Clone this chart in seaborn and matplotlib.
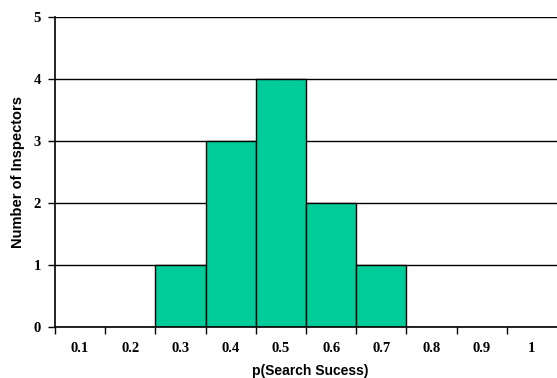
import matplotlib
matplotlib.use("Agg")
import matplotlib.pyplot as plt
import seaborn as sns
import pandas as pd
import numpy as np

categories = ["0.1", "0.2", "0.3", "0.4", "0.5", "0.6", "0.7", "0.8", "0.9", "1"]
inspectors = [0, 0, 1, 3, 4, 2, 1, 0, 0, 0]
y_ticks = [0, 1, 2, 3, 4, 5]

sns.set_theme(style="white")
plt.rcParams["font.family"] = ["Liberation Sans", "DejaVu Sans"]
plt.rcParams["text.color"] = "black"
plt.rcParams["axes.labelcolor"] = "black"
plt.rcParams["xtick.color"] = "black"
plt.rcParams["ytick.color"] = "black"

df = pd.DataFrame({"p": categories, "n": inspectors})

fig = plt.figure(figsize=(5.57, 3.78), dpi=100)
ax = fig.add_axes([55 / 557, 1 - 327 / 378, 1 - 55 / 557, 310 / 378])

sns.barplot(data=df, x="p", y="n", order=categories, color="#00CC99",
            saturation=1, width=1.0, edgecolor="black", linewidth=1.0,
            ax=ax, zorder=3)

ax.set_ylim(0, 5)
ax.set_xlim(-0.5, len(categories) - 0.5)
ax.set_yticks(y_ticks)
ax.set_yticklabels([str(v) for v in y_ticks], fontfamily="Liberation Serif",
                   fontweight="bold", fontsize=10.5)
for v in y_ticks[1:]:
    ax.axhline(v, color="black", linewidth=1.0, zorder=1)

# ticks sit on the bin boundaries, labels at the bin centres
ax.set_xticks(np.arange(-0.5, len(categories) - 0.5, 1.0))
ax.set_xticklabels([])
ax.set_xticks(np.arange(len(categories)), minor=True)
ax.set_xticklabels(categories, minor=True, fontfamily="Liberation Serif",
                   fontweight="bold", fontsize=10.5)
ax.tick_params(axis="x", which="major", direction="out", length=5, width=1,
               color="black", bottom=True)
ax.tick_params(axis="x", which="minor", length=0, pad=10.5, bottom=True)
ax.tick_params(axis="y", direction="out", length=5, width=1, color="black",
               left=True, pad=5)

for side in ["top", "right"]:
    ax.spines[side].set_visible(False)
for side in ["left", "bottom"]:
    ax.spines[side].set_color("black")
    ax.spines[side].set_linewidth(1.2)
    ax.spines[side].set_zorder(4)

ax.set_xlabel("p(Search Sucess)", fontsize=10, fontweight="bold", va="center")
ax.set_ylabel("Number of Inspectors", fontsize=10.5, fontweight="bold", va="center")
ax.xaxis.set_label_coords((310 - 55) / 502, (327 - 371) / 310)
ax.yaxis.set_label_coords((18 - 55) / 502, 0.5)

fig.savefig("out.png", dpi=100)
